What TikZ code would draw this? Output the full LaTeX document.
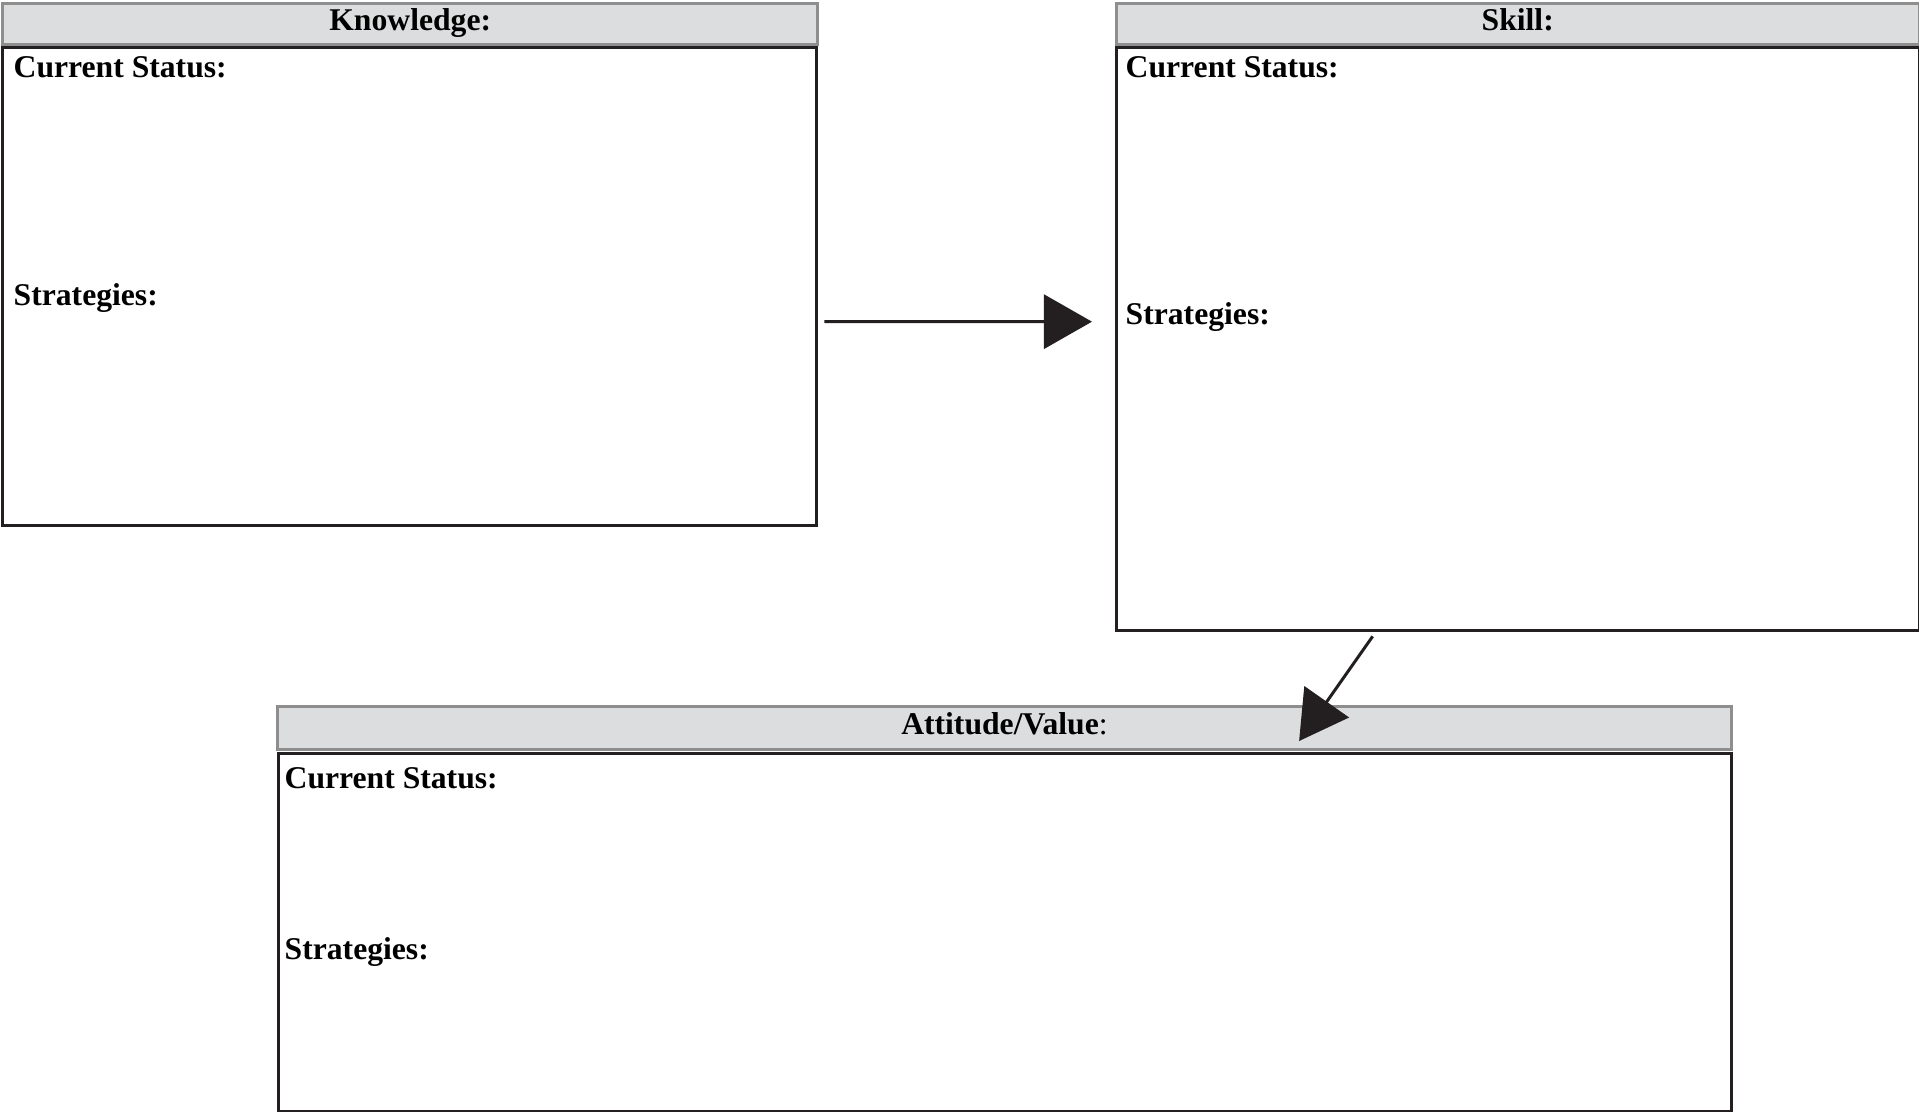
\documentclass[tikz,border=0pt]{standalone}
\usepackage{fontspec}
\setmainfont{Liberation Serif}
\usetikzlibrary{arrows.meta}
\definecolor{inkdark}{HTML}{231F20}
\definecolor{headfill}{HTML}{DCDDDF}
\definecolor{headline}{HTML}{8E8E8E}
\begin{document}
\begin{tikzpicture}[x=0.01cm,y=-0.01cm]
            \tikzset{
                head box/.style={draw=headline,fill=headfill,line width=0.85pt,anchor=north west,inner sep=0pt,
                    text height=6pt,text depth=2.5pt,font=\fontsize{9}{11}\selectfont\bfseries},
                body box/.style={draw=inkdark,fill=white,line width=0.85pt,anchor=north west,inner sep=0pt},
                field label/.style={anchor=base west,inner sep=0pt,font=\fontsize{9}{11}\selectfont\bfseries},
                flow arrow/.style={draw=inkdark,line width=0.85pt,-{Triangle[length=0.48cm,width=0.54cm]}}
            }
            \useasboundingbox (0,0) rectangle (1919,1111);
            % Knowledge
            \node[head box, minimum width=8.15cm, minimum height=0.41cm] (khead) at (1,2) {Knowledge:};
            \node[body box, minimum width=8.14cm, minimum height=4.78cm] (kbody) at (1,46) {};
            \node[field label] (kstatus) at (13,77) {Current Status:};
            \node[field label] (kstrat) at (13,305) {Strategies:};
            % Skill
            \node[head box, minimum width=8.02cm, minimum height=0.41cm] (shead) at (1115,2) {Skill:};
            \node[body box, minimum width=8.02cm, minimum height=5.83cm] (sbody) at (1115,46) {};
            \node[field label] (sstatus) at (1125,77) {Current Status:};
            \node[field label] (sstrat) at (1125,324) {Strategies:};
            % Attitude/Value
            \node[head box, minimum width=14.53cm, minimum height=0.43cm] (ahead) at (276,705) {Attitude/Value{\mdseries:}};
            \node[body box, minimum width=14.52cm, minimum height=3.58cm] (abody) at (277,752) {};
            \node[field label] (astatus) at (284,788) {Current Status:};
            \node[field label] (astrat) at (284,959) {Strategies:};
            % arrows
            \draw[flow arrow] ([xshift=0.06cm,yshift=-0.35cm]kbody.east) -- ([xshift=-0.23cm,yshift=0.175cm]sbody.west);
            \draw[flow arrow] ([xshift=-1.45cm,yshift=-0.04cm]sbody.south) -- ([xshift=2.945cm,yshift=-0.36cm]ahead.north);
\end{tikzpicture}
\end{document}
